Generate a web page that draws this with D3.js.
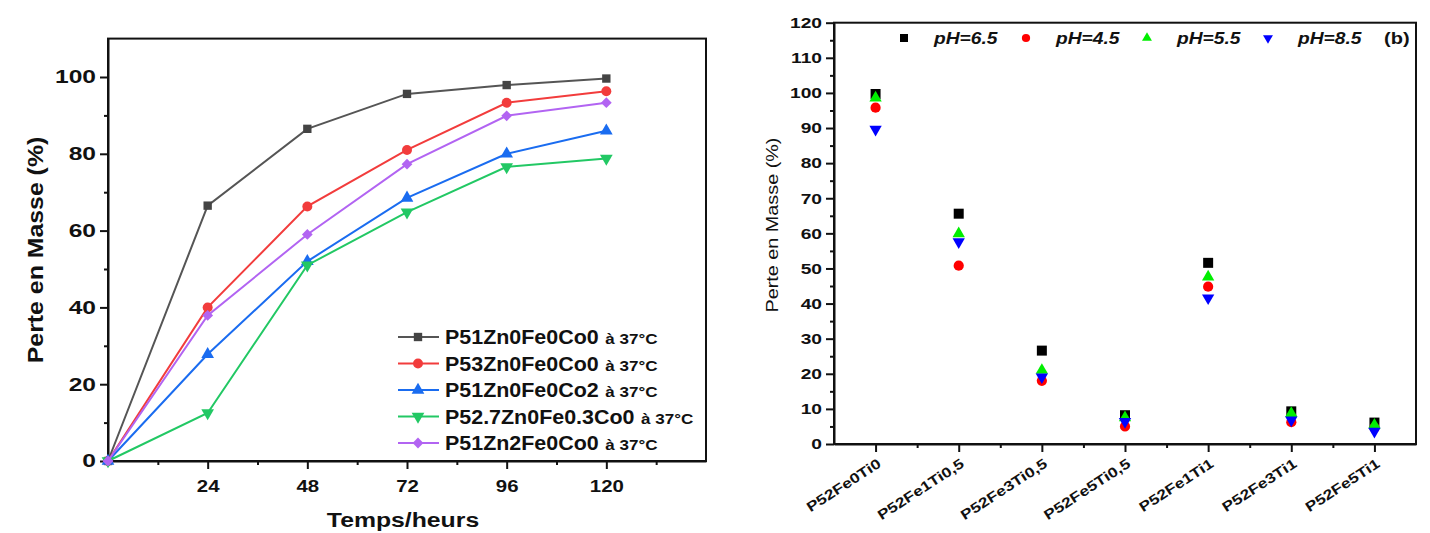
<!DOCTYPE html>
<html>
<head>
<meta charset="utf-8">
<script src="https://cdn.jsdelivr.net/npm/d3@7"></script>
<style>
  body { margin: 0; background: #fff; }
  text { font-family: "Liberation Sans", Arial, sans-serif; fill: #111; }
</style>
</head>
<body>
<div id="chart"></div>
<script>
const W = 1430, H = 533;

// panel (a): mass loss vs time
const hours = [0, 24, 48, 72, 96, 120];
const p51Zn0Fe0Co0 = [0, 66.5, 86.5, 95.6, 97.9, 99.6];
const p53Zn0Fe0Co0 = [0, 40.0, 66.3, 81.0, 93.3, 96.3];
const p51Zn0Fe0Co2 = [0, 27.8, 52.0, 68.5, 80.0, 86.0];
const p527Zn0Fe03Co0 = [0, 12.5, 51.0, 64.8, 76.6, 78.8];
const p51Zn2Fe0Co0 = [0, 37.9, 59.0, 77.3, 89.9, 93.3];
const seriesNames = ["P51Zn0Fe0Co0", "P53Zn0Fe0Co0", "P51Zn0Fe0Co2", "P52.7Zn0Fe0.3Co0", "P51Zn2Fe0Co0"];
const hourTicks = [24, 48, 72, 96, 120];

// panel (b): mass loss per sample at several pH
const samples = ["P52Fe0Ti0", "P52Fe1Ti0,5", "P52Fe3Ti0,5", "P52Fe5Ti0,5", "P52Fe1Ti1", "P52Fe3Ti1", "P52Fe5Ti1"];
const ph65 = [99.7, 65.6, 26.6, 8.2, 51.6, 9.3, 6.1];
const ph45 = [95.8, 50.8, 18.0, 5.0, 44.8, 6.2, 4.6];
const ph55 = [98.6, 59.9, 21.0, 7.5, 47.6, 8.7, 5.4];
const ph85 = [89.6, 57.6, 19.1, 6.4, 41.6, 6.8, 3.6];
const phNames = ["pH=6.5", "pH=4.5", "pH=5.5", "pH=8.5"];

const svg = d3.select("#chart").append("svg")
  .attr("width", W).attr("height", H);
svg.append("rect").attr("width", W).attr("height", H).attr("fill", "#fff");

// the original fonts are wider than Arial, so stretch text horizontally
function widen(sel, sx) {
  sel.each(function() {
    const t = d3.select(this);
    const x = +t.attr("x") || 0, y = +t.attr("y") || 0;
    const pre = t.attr("transform") || "";
    t.attr("x", null).attr("y", null)
      .attr("transform", `${pre} translate(${x},${y}) scale(${sx},1)`);
  });
}

function styleAxis(g) {
  g.selectAll("path.domain").attr("stroke", "#111").attr("stroke-width", 2);
  g.selectAll(".tick line").attr("stroke", "#111").attr("stroke-width", 2);
}

// ---------- panel (a) ----------
const xA = d3.scaleLinear().domain([0, 144]).range([108, 706]);
const yA = d3.scaleLinear().domain([0, 110]).range([461, 38.6]);

const gA = svg.append("g");

gA.append("rect")
  .attr("x", xA(0)).attr("y", yA(110))
  .attr("width", xA(144) - xA(0)).attr("height", yA(0) - yA(110))
  .attr("fill", "none").attr("stroke", "#111").attr("stroke-width", 2);

const axAy = gA.append("g").attr("transform", `translate(${xA(0)},0)`)
  .call(d3.axisLeft(yA).tickValues([0, 20, 40, 60, 80, 100]).tickSize(8).tickSizeOuter(0).tickPadding(4));
gA.append("g").attr("transform", `translate(${xA(0)},0)`)
  .call(d3.axisLeft(yA).tickValues([10, 30, 50, 70, 90]).tickSize(4).tickSizeOuter(0).tickFormat(""))
  .call(g => g.select(".domain").remove()).call(styleAxis);
styleAxis(axAy);
axAy.selectAll("text").attr("font-size", 18.5).attr("font-weight", "bold").attr("fill", "#111");
widen(axAy.selectAll("text"), 1.33);

const axAx = gA.append("g").attr("transform", `translate(0,${yA(0)})`)
  .call(d3.axisBottom(xA).tickValues(hourTicks).tickSize(8).tickSizeOuter(0).tickPadding(11));
gA.append("g").attr("transform", `translate(0,${yA(0)})`)
  .call(d3.axisBottom(xA).tickValues([12, 36, 60, 84, 108, 132]).tickSize(4).tickSizeOuter(0).tickFormat(""))
  .call(g => g.select(".domain").remove()).call(styleAxis);
styleAxis(axAx);
axAx.selectAll("text").attr("font-size", 17).attr("font-weight", "bold").attr("fill", "#111");
widen(axAx.selectAll("text"), 1.2);

gA.append("text").attr("x", 403).attr("y", 527).attr("text-anchor", "middle")
  .attr("font-size", 21).attr("font-weight", "bold").text("Temps/heurs")
  .call(widen, 1.18);
gA.append("text").attr("transform", "translate(43,250) rotate(-90)")
  .attr("text-anchor", "middle").attr("font-size", 22).attr("font-weight", "bold")
  .text("Perte en Masse (%)")
  .call(widen, 1.13);

const seriesA = [
  { name: seriesNames[0], values: p51Zn0Fe0Co0, color: "#555555", fill: "#444444", sym: d3.symbolSquare, size: 70, rot: 0 },
  { name: seriesNames[1], values: p53Zn0Fe0Co0, color: "#f23c3c", fill: "#f23c3c", sym: d3.symbolCircle, size: 78, rot: 0 },
  { name: seriesNames[2], values: p51Zn0Fe0Co2, color: "#1a6cf0", fill: "#1a6cf0", sym: d3.symbolTriangle, size: 70, rot: 0 },
  { name: seriesNames[3], values: p527Zn0Fe03Co0, color: "#22c864", fill: "#22c864", sym: d3.symbolTriangle, size: 70, rot: 180 },
  { name: seriesNames[4], values: p51Zn2Fe0Co0, color: "#b264f2", fill: "#b264f2", sym: d3.symbolSquare, size: 58, rot: 45 }
];

const lineA = d3.line().x((d, i) => xA(hours[i])).y(d => yA(d));

seriesA.forEach(s => {
  gA.append("path").datum(s.values)
    .attr("d", lineA).attr("fill", "none")
    .attr("stroke", s.color).attr("stroke-width", 2);
  gA.selectAll(null).data(s.values).enter().append("path")
    .attr("d", d3.symbol().type(s.sym).size(s.size))
    .attr("transform", (d, i) => `translate(${xA(hours[i])},${yA(d)}) rotate(${s.rot})`)
    .attr("fill", s.fill);
});

const legA = gA.append("g");
seriesA.forEach((s, i) => {
  const yy = 337 + 26.5 * i;
  legA.append("line").attr("x1", 398).attr("x2", 439).attr("y1", yy).attr("y2", yy)
    .attr("stroke", s.color).attr("stroke-width", 2);
  legA.append("path")
    .attr("d", d3.symbol().type(s.sym).size(s.size))
    .attr("transform", `translate(418,${yy}) rotate(${s.rot})`)
    .attr("fill", s.fill);
  const t = legA.append("text").attr("x", 445).attr("y", yy + 7)
    .attr("font-size", 19.5).attr("font-weight", "bold");
  t.append("tspan").text(s.name);
  t.append("tspan").attr("font-size", 15.5).attr("dx", 6).text("à 37°C");
  widen(t, 1.1);
});

// ---------- panel (b) ----------
const xB = d3.scaleLinear().domain([-0.5, 6.5]).range([834, 1416]);
const yB = d3.scaleLinear().domain([0, 120]).range([444, 22.7]);
const gB = svg.append("g");

gB.append("rect")
  .attr("x", xB(-0.5)).attr("y", yB(120))
  .attr("width", xB(6.5) - xB(-0.5)).attr("height", yB(0) - yB(120))
  .attr("fill", "none").attr("stroke", "#111").attr("stroke-width", 2);

const axBy = gB.append("g").attr("transform", `translate(${xB(-0.5)},0)`)
  .call(d3.axisLeft(yB).tickValues(d3.range(0, 121, 10)).tickSize(8).tickSizeOuter(0).tickPadding(4));
gB.append("g").attr("transform", `translate(${xB(-0.5)},0)`)
  .call(d3.axisLeft(yB).tickValues(d3.range(5, 120, 10)).tickSize(4).tickSizeOuter(0).tickFormat(""))
  .call(g => g.select(".domain").remove()).call(styleAxis);
styleAxis(axBy);
axBy.selectAll("text").attr("font-size", 15).attr("font-weight", "bold").attr("fill", "#111");
widen(axBy.selectAll("text"), 1.28);

const axBx = gB.append("g").attr("transform", `translate(0,${yB(0)})`)
  .call(d3.axisBottom(xB).tickValues(d3.range(0, 7)).tickSize(8).tickSizeOuter(0).tickFormat(i => samples[i]));
gB.append("g").attr("transform", `translate(0,${yB(0)})`)
  .call(d3.axisBottom(xB).tickValues(d3.range(0.5, 6, 1)).tickSize(4).tickSizeOuter(0).tickFormat(""))
  .call(g => g.select(".domain").remove()).call(styleAxis);
styleAxis(axBx);
axBx.selectAll("text")
  .attr("font-size", 14).attr("font-weight", "bold").attr("fill", "#111")
  .attr("text-anchor", "end").attr("x", null).attr("y", null).attr("dy", null)
  .attr("transform", "translate(6,22) rotate(-33) scale(1.24,1)");

gB.append("text").attr("transform", "translate(778,225) rotate(-90)")
  .attr("text-anchor", "middle").attr("font-size", 16.5)
  .text("Perte en Masse (%)")
  .call(widen, 1.2);

const seriesB = [
  { name: phNames[0], values: ph65, color: "#000000", sym: d3.symbolSquare, size: 100, rot: 0 },
  { name: phNames[1], values: ph45, color: "#ff0000", sym: d3.symbolCircle, size: 82, rot: 0 },
  { name: phNames[2], values: ph55, color: "#00ee00", sym: d3.symbolTriangle, size: 66, rot: 0 },
  { name: phNames[3], values: ph85, color: "#0000ff", sym: d3.symbolTriangle, size: 66, rot: 180 }
];

seriesB.forEach(s => {
  gB.selectAll(null).data(s.values).enter().append("path")
    .attr("d", d3.symbol().type(s.sym).size(s.size))
    .attr("transform", (d, i) => `translate(${xB(i)},${yB(d)}) rotate(${s.rot})`)
    .attr("fill", s.color);
});

const legBx = [904, 1026, 1147, 1268];
seriesB.forEach((s, i) => {
  gB.append("path")
    .attr("d", d3.symbol().type(s.sym).size(s.size * 0.65))
    .attr("transform", `translate(${legBx[i]},38) rotate(${s.rot})`)
    .attr("fill", s.color);
  gB.append("text").attr("x", legBx[i] + 30).attr("y", 44)
    .attr("font-size", 16).attr("font-weight", "bold").attr("font-style", "italic")
    .text(s.name)
    .call(widen, 1.2);
});
gB.append("text").attr("x", 1384).attr("y", 44)
  .attr("font-size", 16).attr("font-weight", "bold").text("(b)")
  .call(widen, 1.25);
</script>
</body>
</html>
